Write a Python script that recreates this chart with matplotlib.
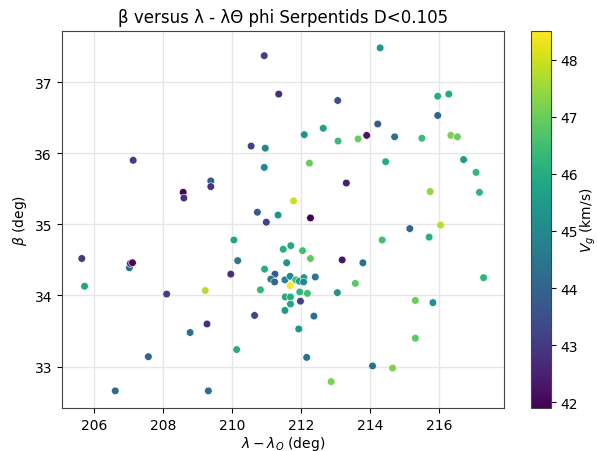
import numpy as np
import matplotlib
matplotlib.use('Agg')
import matplotlib.pyplot as plt

# ecliptic longitude minus solar longitude (deg)
lam = [207.14, 208.59, 208.61, 209.39, 209.39, 210.94, 211.36, 213.07, 212.10, 212.65,
       213.08, 213.66, 210.56, 210.97, 210.94, 212.25, 213.32, 211.79, 210.74, 211.34,
       214.30, 215.97, 216.29, 215.97, 214.23, 213.91, 214.72, 215.51, 216.35, 216.54,
       216.72, 217.08, 214.46, 217.18, 215.75, 205.65, 205.73, 207.03, 207.06, 207.12,
       208.11, 209.23, 209.28, 208.79, 207.58, 206.62, 209.32, 211.00, 212.28, 210.06,
       210.17, 209.97, 211.49, 211.71, 212.05, 212.28, 211.59, 210.95, 211.25, 211.13,
       211.24, 211.54, 211.69, 211.85, 211.96, 212.09, 212.08, 212.42, 211.69, 210.83,
       211.97, 212.19, 211.55, 211.70, 211.70, 211.99, 211.54, 210.66, 212.38, 211.94,
       210.14, 212.17, 212.88, 213.20, 213.58, 213.06, 213.80, 215.16, 216.05, 215.72,
       214.36, 217.30, 215.32, 215.83, 215.32, 214.08, 214.66]
# ecliptic latitude (deg)
beta = [35.90, 35.45, 35.37, 35.61, 35.53, 37.37, 36.83, 36.74, 36.26, 36.35,
        36.17, 36.20, 36.10, 36.07, 35.80, 35.86, 35.58, 35.33, 35.17, 35.13,
        37.48, 36.80, 36.83, 36.53, 36.41, 36.25, 36.23, 36.21, 36.25, 36.23,
        35.91, 35.73, 35.88, 35.45, 35.46, 34.52, 34.13, 34.39, 34.45, 34.46,
        34.02, 34.07, 33.60, 33.48, 33.14, 32.66, 32.66, 35.03, 35.09, 34.78,
        34.49, 34.30, 34.65, 34.70, 34.63, 34.52, 34.46, 34.37, 34.30, 34.23,
        34.19, 34.22, 34.27, 34.22, 34.20, 34.25, 34.19, 34.26, 34.14, 34.08,
        34.05, 34.03, 33.98, 33.98, 33.88, 33.92, 33.79, 33.72, 33.71, 33.53,
        33.24, 33.13, 32.79, 34.50, 34.17, 34.04, 34.46, 34.94, 34.99, 34.82,
        34.78, 34.25, 33.93, 33.90, 33.40, 33.01, 32.98]
# geocentric velocity (km/s)
vg = [43.0, 42.0, 42.8, 43.8, 42.9, 43.1, 42.7, 43.6, 45.3, 45.6,
      46.4, 47.0, 43.2, 45.0, 45.0, 47.0, 42.5, 48.0, 43.8, 45.3,
      45.5, 46.0, 45.9, 44.0, 43.8, 42.3, 44.3, 46.4, 47.2, 47.0,
      45.5, 46.3, 46.0, 46.2, 47.4, 43.0, 45.8, 44.4, 42.6, 42.1,
      43.1, 47.8, 42.8, 44.3, 44.0, 44.2, 44.2, 43.2, 41.9, 45.8,
      44.5, 42.8, 46.0, 45.9, 46.5, 46.9, 45.3, 46.0, 43.8, 44.5,
      44.0, 44.8, 45.0, 46.6, 45.5, 45.3, 45.0, 44.5, 48.5, 46.3,
      46.2, 46.5, 45.8, 46.0, 45.8, 43.2, 45.5, 43.3, 44.3, 45.3,
      46.0, 44.3, 47.2, 42.3, 46.8, 45.3, 44.3, 44.0, 47.8, 46.0,
      46.5, 46.2, 47.0, 45.3, 46.8, 44.3, 47.2]

fig = plt.figure(figsize=(5.97, 4.52), dpi=100)
ax = fig.add_axes([61.7/597, 1-409/452, (503.7-61.7)/597, (409-31.7)/452])
cax = fig.add_axes([531/597, 1-409/452, 20/597, (409-32)/452])

sc = ax.scatter(lam, beta, c=vg, cmap='viridis', s=30, edgecolors='w', linewidths=0.4, zorder=3)
ax.grid(True, color='#e6e6e6', linewidth=1, zorder=0)
ax.set_axisbelow(True)
for sp in ax.spines.values():
    sp.set_color('#444444')

ax.set_title('β versus λ - λΘ phi Serpentids D<0.105', fontsize=12)
ax.set_xlabel(r'$\lambda - \lambda_O$ (deg)', labelpad=1.5)
ax.set_ylabel(r'$\beta$ (deg)')

cb = fig.colorbar(sc, cax=cax)
cb.set_label(r'$V_g$ (km/s)', labelpad=0)
cb.outline.set_edgecolor('#444444')

fig.savefig('out.png', dpi=100)
